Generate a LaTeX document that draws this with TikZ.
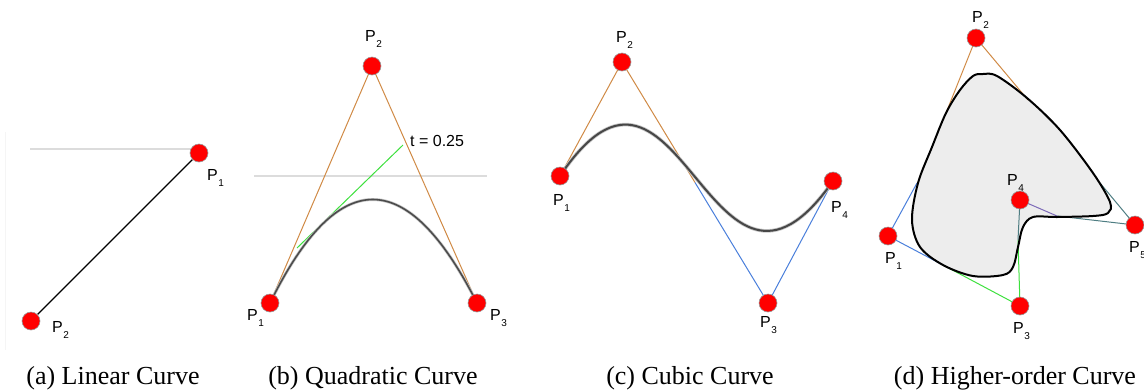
\documentclass[tikz,border=0pt]{standalone}
\usepackage{fontspec}
\setmainfont{Liberation Serif}
\newfontfamily\labelfont{Liberation Sans}
\usetikzlibrary{calc,backgrounds}
\definecolor{ctrlorange}{HTML}{D08A45}
\definecolor{ctrlblue}{HTML}{4A7FDB}
\definecolor{ctrlgreen}{HTML}{3EE03E}
\definecolor{ctrlteal}{HTML}{4E7D82}
\definecolor{ctrlpurple}{HTML}{7C6AB8}
\definecolor{guidegray}{HTML}{DCDCDC}
\definecolor{shapefill}{HTML}{EDEDED}
\newcommand\pp[1]{P\kern.5pt\raisebox{-6pt}{\fontsize{10}{10}\selectfont #1}}

\begin{document}
\begin{tikzpicture}[x=1pt,y=-1pt,
 pt/.style={circle,fill=red,draw=gray!80,line width=0.6pt,minimum size=18pt,inner sep=0pt},
 lbl/.style={anchor=base west,inner sep=0pt,font=\labelfont\fontsize{16}{16}\selectfont},
 subcap/.style={anchor=base,inner sep=0pt,font=\fontsize{26}{26}\selectfont},
 guide/.style={draw=guidegray,line width=1.2pt},
 ctrl/.style={line width=1pt}]
\useasboundingbox (0,0) rectangle (1144,389);

% (a) linear curve
\node[pt] (a1) at (199,153) {};
\node[pt] (a2) at (31,321) {};
\node[lbl] (la1) at (207,180) {\pp{1}};
\node[lbl] (la2) at (52,332) {\pp{2}};
\coordinate (ga) at (30,149);
\coordinate (fa) at (5,132);
\begin{scope}[on background layer]
\draw[draw=gray!8,line width=1pt] (fa) -- ++(0,218);
\draw[guide] (ga) -- (ga -| a1.center);
\draw[line width=1.3pt] (a2) -- (a1);
\end{scope}

% (b) quadratic curve
\node[pt] (b1) at (270,303) {};
\node[pt] (b2) at (372,66) {};
\node[pt] (b3) at (477,303) {};
\node[lbl] (lb1) at (247,320) {\pp{1}};
\node[lbl] (lb2) at (365,41) {\pp{2}};
\node[lbl] (lb3) at (490,320) {\pp{3}};
\coordinate (gb) at (254,176);
\coordinate (t0) at (297,248);
\coordinate (t1) at (403,145);
\node[lbl,anchor=base west] (tval) at (410,146) {t = 0.25};
\begin{scope}[on background layer]
\draw[guide] (gb) -- ++(233,0);
\draw[ctrl,ctrlorange] (b1.center) -- (b2.center) -- (b3.center);
\draw[ctrl,ctrlgreen] (t0) -- (t1);
\draw[draw=gray!45,line width=3pt] (b1.center) .. controls (338,165) and (407,165) .. (b3.center);
\draw[draw=black!70,line width=1.6pt] (b1.center) .. controls (338,165) and (407,165) .. (b3.center);
\end{scope}

% (c) cubic curve
\node[pt] (c1) at (560,176) {};
\node[pt] (c2) at (622,62) {};
\node[pt] (c3) at (768,303) {};
\node[pt] (c4) at (833,181) {};
\node[lbl] (lc1) at (553,205) {\pp{1}};
\node[lbl] (lc2) at (616,42) {\pp{2}};
\node[lbl] (lc3) at (760,327) {\pp{3}};
\node[lbl] (lc4) at (831,212) {\pp{4}};
\coordinate (cm) at ($(c2)!0.5!(c3)$);
\begin{scope}[on background layer]
\draw[ctrl,ctrlorange] (c1.center) -- (c2.center) -- (cm);
\draw[ctrl,ctrlblue] (cm) -- (c3.center) -- (c4.center);
\draw[draw=gray!45,line width=3.6pt] (c1.center) .. controls (680,-3) and (710,357) .. (c4.center);
\draw[draw=black!72,line width=2pt] (c1.center) .. controls (680,-3) and (710,357) .. (c4.center);
\end{scope}

% (d) higher-order curve
\node[pt] (d1) at (888,236) {};
\node[pt] (d2) at (976,38) {};
\node[pt] (d3) at (1020,306) {};
\node[pt] (d4) at (1020,200) {};
\node[pt] (d5) at (1135,225) {};
\node[lbl] (ld1) at (885,263) {\pp{1}};
\node[lbl] (ld2) at (972,22) {\pp{2}};
\node[lbl] (ld3) at (1013,333) {\pp{3}};
\node[lbl] (ld4) at (1007,185) {\pp{4}};
\node[lbl] (ld5) at (1129,252) {\pp{5}};
\coordinate (e12) at (946,113);
\coordinate (e23) at (1028,100);
\coordinate (e10) at (917,183);
\coordinate (e13) at (943,265);
\coordinate (e34) at (1018,240);
\coordinate (e45) at (1057,216);
\coordinate (e56) at (1100,183);
\begin{scope}[on background layer]
\fill[shapefill] plot[smooth cycle,tension=0.55] coordinates {(983,74) (997,76) (1027,98) (1060,130) (1093,173) (1110,202) (1108,213) (1093,216) (1057,217) (1033,217) (1023,227) (1018,247) (1013,267) (1003,275) (973,276) (943,265) (920,247) (912,220) (918,183) (932,147) (946,113) (960,90) (973,76)};
\draw[ctrl,ctrlorange] (e12) -- (d2.center) -- (e23);
\draw[ctrl,ctrlblue] (e10) -- (d1.center) -- (e13);
\draw[ctrl,ctrlgreen] (e13) -- (d3.center) -- (e34);
\draw[ctrl,ctrlteal] (e34) -- (d4.center);
\draw[ctrl,ctrlpurple] (d4.center) -- (e45);
\draw[ctrl,ctrlteal] (e45) -- (d5.center) -- (e56);
\draw[line width=2pt] plot[smooth cycle,tension=0.55] coordinates {(983,74) (997,76) (1027,98) (1060,130) (1093,173) (1110,202) (1108,213) (1093,216) (1057,217) (1033,217) (1023,227) (1018,247) (1013,267) (1003,275) (973,276) (943,265) (920,247) (912,220) (918,183) (932,147) (946,113) (960,90) (973,76)};
\end{scope}

% captions
\node[subcap] (capa) at (113,384) {(a) Linear Curve};
\node[subcap] (capb) at (373,384) {(b) Quadratic Curve};
\node[subcap] (capc) at (690,384) {(c) Cubic Curve};
\node[subcap] (capd) at (1015,384) {(d) Higher-order Curve};
\end{tikzpicture}
\end{document}
